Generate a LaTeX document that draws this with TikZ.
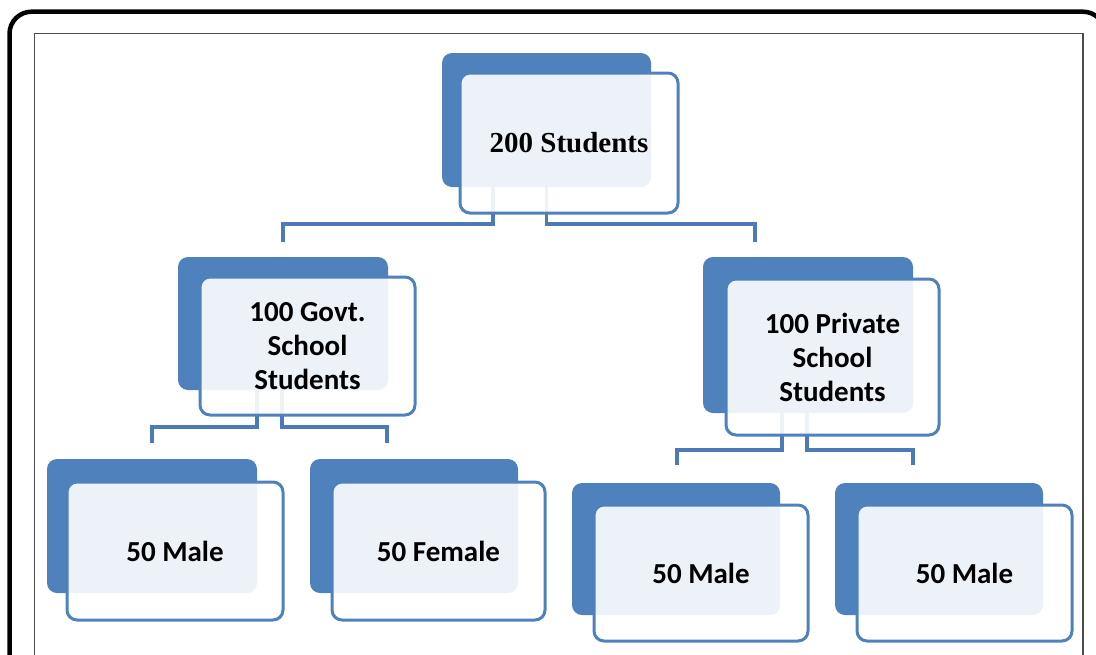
\documentclass[tikz,border=0pt]{standalone}
\usepackage{fontspec}
\newfontfamily\boxsans{Carlito}
\newfontfamily\boxserif{Liberation Serif}
\definecolor{ofblue}{HTML}{4F81BD}
\definecolor{linkblue}{HTML}{4A7BB7}
\begin{document}
\begin{tikzpicture}[x=1pt,y=-1pt,
  backbox/.style={fill=ofblue, rounded corners=10pt, anchor=north west,
    inner sep=0pt, outer sep=0pt},
  frontbox/.style={draw=ofblue, line width=3pt, fill=white, fill opacity=0.9,
    draw opacity=1, text opacity=1, rounded corners=10pt, anchor=north west,
    inner sep=0pt, outer sep=0pt, align=center, text=black,
    font=\boxsans\bfseries\fontsize{29}{34}\selectfont},
  conn/.style={draw=linkblue, line width=3.5pt},
  sz/.style 2 args={minimum width=#1pt, minimum height=#2pt}
]
\clip (0,0) rectangle (1096,654);
\useasboundingbox (0,0) rectangle (1096,654);

% page frames
\draw[line width=4.5pt, rounded corners=22pt] (9.5,11.7) rectangle (1105,700);
\draw[line width=1.4pt, draw=black!70] (34.5,33.5) rectangle (1083,700);

% shadow boxes behind each card
\node[backbox, sz={209}{134}] (topb) at (442,53) {};
\node[backbox, sz={210}{133}] (mlb) at (178,257) {};
\node[backbox, sz={210}{156}] (mrb) at (703,257) {};
\node[backbox, sz={210}{134}] (b1b) at (47,459) {};
\node[backbox, sz={208}{134}] (b2b) at (310,459) {};
\node[backbox, sz={208}{132}] (b3b) at (572,483) {};
\node[backbox, sz={208}{132}] (b4b) at (835,483) {};

% connector ends
\coordinate (tl) at (283,242);
\coordinate (tr) at (755,242);
\coordinate (mll) at (152,443);
\coordinate (mlr) at (387,443);
\coordinate (mrl) at (677,465);
\coordinate (mrr) at (913,465);

% connectors
\draw[conn] ([xshift=-53.5pt]topb.south) -- ++(0,37) -| (tl);
\draw[conn] (topb.south) -- ++(0,37) -| (tr);
\draw[conn] ([xshift=-26pt]mlb.south) -- ++(0,37) -| (mll);
\draw[conn] ([xshift=-1pt]mlb.south) -- ++(0,37) -| (mlr);
\draw[conn] ([xshift=-26pt]mrb.south) -- ++(0,37) -| (mrl);
\draw[conn] ([xshift=-1pt]mrb.south) -- ++(0,37) -| (mrr);

% front cards with labels
\node[frontbox, sz={218}{140}, font=\boxserif\bfseries\fontsize{29}{34}\selectfont]
  (top) at (460,73) {200 Students};
\node[frontbox, sz={215}{138}] (ml) at (200,277) {100 Govt.\\School\\Students};
\node[frontbox, sz={213}{156}] (mr) at (726,279) {100 Private\\School\\Students};
\node[frontbox, sz={216}{138}] (b1) at (67,482) {50 Male};
\node[frontbox, sz={213}{138}] (b2) at (332,482) {50 Female};
\node[frontbox, sz={214}{136}] (b3) at (594,505) {50 Male};
\node[frontbox, sz={215}{136}] (b4) at (857,505) {50 Male};
\end{tikzpicture}
\end{document}
